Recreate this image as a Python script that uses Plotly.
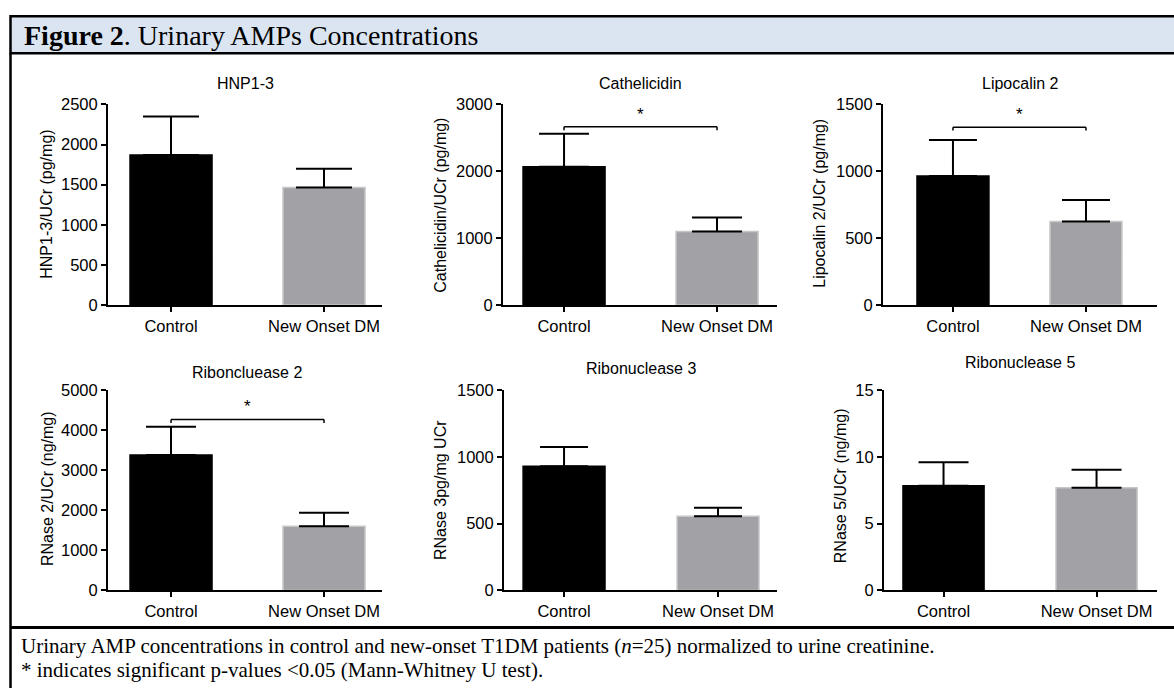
import plotly.graph_objects as go

# ---------------- data ----------------
groups = ["Control", "New Onset DM"]

panel_titles = ["HNP1-3", "Cathelicidin", "Lipocalin 2",
                "Riboncluease 2", "Ribonuclease 3", "Ribonuclease 5"]
y_titles = ["HNP1-3/UCr (pg/mg)", "Cathelicidin/UCr (pg/mg)", "Lipocalin 2/UCr (pg/mg)",
            "RNase 2/UCr (ng/mg)", "RNase 3pg/mg UCr", "RNase 5/UCr (ng/mg)"]

hnp_mean = [1870, 1465]
hnp_sem = [480, 235]
cath_mean = [2070, 1100]
cath_sem = [490, 210]
lcn_mean = [965, 625]
lcn_sem = [270, 160]
rnase2_mean = [3380, 1600]
rnase2_sem = [710, 340]
rnase3_mean = [930, 555]
rnase3_sem = [145, 65]
rnase5_mean = [7.85, 7.7]
rnase5_sem = [1.75, 1.35]

y_max = [2500, 3000, 1500, 5000, 1500, 15]
y_dtick = [500, 1000, 500, 1000, 500, 5]
sig_level = [None, 2665, 1330, 4270, None, None]   # bracket heights (data units)

means = [hnp_mean, cath_mean, lcn_mean, rnase2_mean, rnase3_mean, rnase5_mean]
sems = [hnp_sem, cath_sem, lcn_sem, rnase2_sem, rnase3_sem, rnase5_sem]

header_bold = "Figure 2"
header_rest = ". Urinary AMPs Concentrations"
caption_1 = ("Urinary AMP concentrations in control and new-onset T1DM patients "
             "(<i>n</i>=25) normalized to urine creatinine.")
caption_2 = "* indicates significant p-values <0.05 (Mann-Whitney U test)."

# ---------------- layout (pixels) ----------------
W, H = 1174, 688
def fx(px):
    return px / W
def fy(py):
    return 1 - py / H

rows_px = [(98, 304), (391.5, 597)]
panels = [
    dict(x=(108, 382), row=0, xr=(-0.412, 1.379), bw=0.536, cap=28, yt=(47, 201), tt=(245, 77)),
    dict(x=(503, 777), row=0, xr=(-0.399, 1.392), bw=0.536, cap=25, yt=(441, 202), tt=(640, 76)),
    dict(x=(883, 1157), row=0, xr=(-0.526, 1.534), bw=0.541, cap=24, yt=(820, 200), tt=(1020, 76)),
    dict(x=(108, 382), row=1, xr=(-0.412, 1.379), bw=0.536, cap=25, yt=(47, 493), tt=(247, 373)),
    dict(x=(504, 777), row=1, xr=(-0.390, 1.383), bw=0.532, cap=24, yt=(440, 494), tt=(641, 369)),
    dict(x=(884, 1157), row=1, xr=(-0.389, 1.395), bw=0.530, cap=25, yt=(840, 490), tt=(1020, 363)),
]

SANS = "Liberation Sans, Arial, sans-serif"
SERIF = "Liberation Serif, Times New Roman, serif"
BAR_FILL = ["#000000", "#a2a2a6"]
BAR_EDGE = ["#000000", "#c6c6c8"]

fig = go.Figure()
layout = dict(
    width=W, height=H,
    margin=dict(l=0, r=0, t=0, b=0),
    paper_bgcolor="white", plot_bgcolor="white",
    showlegend=False,
    font=dict(family=SANS, color="black"),
)
shapes = []
annotations = []

for i, p in enumerate(panels):
    k = i + 1
    xa = "x" if k == 1 else f"x{k}"
    ya = "y" if k == 1 else f"y{k}"
    top, bot = rows_px[p["row"]]
    fig.add_trace(go.Bar(
        x=groups, y=means[i], xaxis=xa, yaxis=ya,
        width=p["bw"],
        marker=dict(color=BAR_FILL, line=dict(color=BAR_EDGE, width=1.5)),
        error_y=dict(type="data", symmetric=False, array=sems[i], arrayminus=[0, 0],
                     color="black", thickness=2, width=p["cap"]),
        hoverinfo="x+y",
    ))
    axis_common = dict(showline=True, linecolor="black", linewidth=2,
                       ticks="outside", ticklen=5, tickwidth=2, tickcolor="black",
                       showgrid=False, zeroline=False,
                       tickfont=dict(family=SANS, size=16.5, color="black"))
    layout["xaxis" if k == 1 else f"xaxis{k}"] = dict(
        axis_common, domain=[fx(p["x"][0]), fx(p["x"][1])], anchor=ya,
        type="category", range=list(p["xr"]))
    layout["yaxis" if k == 1 else f"yaxis{k}"] = dict(
        axis_common, domain=[fy(bot), fy(top)], anchor=xa,
        range=[0, y_max[i]], tick0=0, dtick=y_dtick[i])

    # panel title
    annotations.append(dict(text=panel_titles[i], xref="paper", yref="paper",
                            x=fx(p["tt"][0]), y=fy(p["tt"][1]), xanchor="center", yanchor="middle",
                            showarrow=False, font=dict(family=SANS, size=16, color="black")))
    # y-axis title
    annotations.append(dict(text=y_titles[i], xref="paper", yref="paper", textangle=-90,
                            x=fx(p["yt"][0]), y=fy(p["yt"][1]), xanchor="center", yanchor="middle",
                            showarrow=False, font=dict(family=SANS, size=16, color="black")))
    # significance bracket
    if sig_level[i] is not None:
        lvl = sig_level[i]
        drop = 3.5 / (bot - top) * y_max[i]
        ln = dict(color="black", width=1.5)
        shapes.append(dict(type="line", xref=xa, yref=ya, x0=0, x1=1, y0=lvl, y1=lvl, line=ln))
        shapes.append(dict(type="line", xref=xa, yref=ya, x0=0, x1=0, y0=lvl, y1=lvl - drop, line=ln))
        shapes.append(dict(type="line", xref=xa, yref=ya, x0=1, x1=1, y0=lvl, y1=lvl - drop, line=ln))
        annotations.append(dict(text="*", xref=xa, yref=ya, x=0.5, y=lvl,
                                xanchor="center", yanchor="bottom", yshift=1,
                                showarrow=False, font=dict(family=SANS, size=17, color="black")))

# ---------------- frame / table borders ----------------
shapes.append(dict(type="rect", xref="paper", yref="paper", layer="below",
                   x0=fx(10.5), x1=1.02, y0=fy(45.5), y1=fy(7.5),
                   fillcolor="#dbe5f1", line=dict(color="black", width=2.5)))
shapes.append(dict(type="line", xref="paper", yref="paper",
                   x0=fx(10.5), x1=fx(10.5), y0=fy(45.5), y1=-0.05,
                   line=dict(color="black", width=2.5)))
shapes.append(dict(type="line", xref="paper", yref="paper",
                   x0=fx(10.5), x1=1.02, y0=fy(635), y1=fy(635),
                   line=dict(color="black", width=3)))

annotations.append(dict(text=f"<b>{header_bold}</b>{header_rest}", xref="paper", yref="paper",
                        x=fx(22), y=fy(27.5), xanchor="left", yanchor="middle", showarrow=False,
                        font=dict(family=SERIF, size=28, color="black")))
annotations.append(dict(text=caption_1, xref="paper", yref="paper",
                        x=fx(19), y=fy(654.5), xanchor="left", yanchor="middle", showarrow=False,
                        font=dict(family=SERIF, size=21, color="black")))
annotations.append(dict(text=caption_2, xref="paper", yref="paper",
                        x=fx(19), y=fy(678.5), xanchor="left", yanchor="middle", showarrow=False,
                        font=dict(family=SERIF, size=21, color="black")))

layout["shapes"] = shapes
layout["annotations"] = annotations
fig.update_layout(**layout)

fig.write_html("out.html",
               config={"displayModeBar": False},
               post_script="document.body.style.margin='0';document.body.style.overflow='hidden';")
